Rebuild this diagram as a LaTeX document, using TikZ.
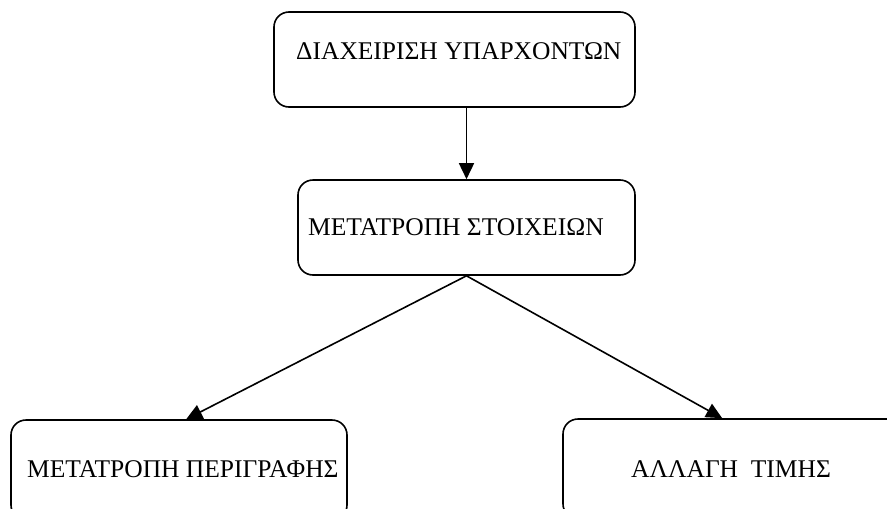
\documentclass[tikz,border=0pt]{standalone}
\usepackage{fontspec}
\setmainfont{Liberation Serif}
\usetikzlibrary{arrows.meta}
\begin{document}
\begin{tikzpicture}[x=1pt,y=-1pt,
  box/.style={draw, line width=1.6pt, rounded corners=15pt, inner sep=0pt},
  lbl/.style={anchor=base west, inner sep=0pt, font=\fontsize{25.5}{30}\selectfont},
  link/.style={line width=1.6pt, -{Triangle[length=16pt,width=15pt]}}]
\useasboundingbox (0,0) rectangle (887,509);
\clip (0,0) rectangle (887,509);
% boxes
\node[box, minimum width=361pt, minimum height=95pt] (top) at (454.5,59.5) {};
\node[box, minimum width=337pt, minimum height=95pt] (mid) at (466.5,227.5) {};
\node[box, minimum width=336pt, minimum height=100pt] (left) at (179,470) {};
\node[box, minimum width=340pt, minimum height=100pt] (right) at (733,469) {};
% labels
\node[lbl] (toptext) at (296,59) {ΔΙΑΧΕΙΡΙΣΗ ΥΠΑΡΧΟΝΤΩΝ};
\node[lbl] (midtext) at (308,235) {ΜΕΤΑΤΡΟΠΗ ΣΤΟΙΧΕΙΩΝ};
\node[lbl] (lefttext) at (27,477) {ΜΕΤΑΤΡΟΠΗ ΠΕΡΙΓΡΑΦΗΣ};
\node[lbl] (righttext) at (631,477) {ΑΛΛΑΓΗ\ \ ΤΙΜΗΣ};
% connectors
\draw[link] (mid.north |- top.south) -- (mid.north);
\draw[link] (mid.south) -- ([xshift=176pt]left.north west);
\draw[link] (mid.south) -- ([xshift=160pt]right.north west);
\end{tikzpicture}
\end{document}
